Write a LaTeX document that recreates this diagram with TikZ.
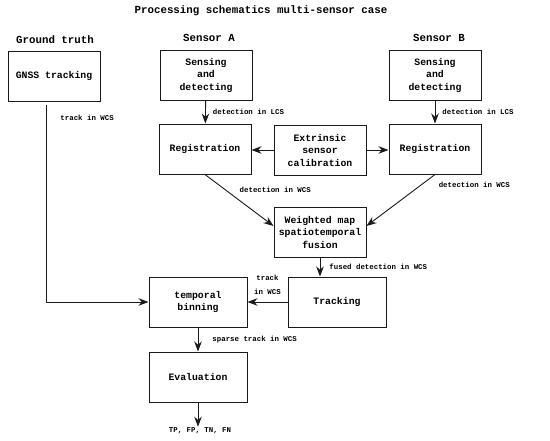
\documentclass[tikz,border=0pt]{standalone}
\usepackage{fontspec}
\setmonofont{Liberation Mono}
\usetikzlibrary{arrows.meta,positioning}
\definecolor{Ink}{HTML}{1A1A1A}

\begin{document}
\begin{tikzpicture}[x=1pt,y=-1pt,font=\ttfamily\bfseries,flowline/.style={draw=Ink,line width=0.9pt,-{Stealth[length=10pt,width=7.5pt]}},block/.style={rectangle,draw=Ink,line width=1pt,minimum width=92pt,minimum height=50pt,align=center,inner sep=2pt,font=\ttfamily\bfseries\fontsize{9.8}{12.5}\selectfont},wideblock/.style={block,minimum width=98pt},heading/.style={font=\ttfamily\bfseries\fontsize{10.8}{12}\selectfont},tag/.style={font=\ttfamily\bfseries\fontsize{7.4}{14}\selectfont,inner sep=1pt}]
\useasboundingbox (0,0) rectangle (550,440);
\node[heading] (title) at (261,11) {Processing schematics multi-sensor case};
\node[heading] (hgt) at (55,40) {Ground truth};
\node[heading] (hsa) at (209,38) {Sensor A};
\node[heading] (hsb) at (439,38) {Sensor B};
\node[block] (gnss) at (54,76) {GNSS tracking};
\node[block] (senseA) at (206,75) {Sensing\\and\\detecting};
\node[block] (senseB) at (435,75) {Sensing\\and\\detecting};
\node[block] (regA) at (205,149) {Registration};
\node[block] (calib) at (320,150) {Extrinsic\\sensor\\calibration};
\node[block] (regB) at (435,149) {Registration};
\node[block] (fusion) at (320,232) {Weighted map\\spatiotemporal\\fusion};
\node[wideblock] (tracking) at (337,302) {Tracking};
\node[wideblock] (binning) at (198,302) {temporal\\binning};
\node[wideblock] (eval) at (198,377) {Evaluation};
\node[tag] (result) at (200,431) {TP, FP, TN, FN};
\draw[flowline] ([xshift=-8pt,yshift=-3pt]gnss.south) |- node[tag,pos=0.035,right=13pt]{track in WCS} (binning.west);
\draw[flowline] (senseA) -- node[tag,right=6pt]{detection in LCS} (regA);
\draw[flowline] (senseB) -- node[tag,right=6pt]{detection in LCS} (regB);
\draw[flowline] (calib.west) -- (calib.west -| regA.east);
\draw[flowline] (calib.east) -- (calib.east -| regB.west);
\draw[flowline] (regA.south) -- node[tag,midway,anchor=south west,xshift=-1pt,yshift=6pt]{detection in WCS} ([yshift=6pt]fusion.west);
\draw[flowline] (regB.south) -- node[tag,pos=0.2,right=16pt]{detection in WCS} ([yshift=6pt]fusion.east);
\draw[flowline] (fusion.south) -- node[tag,right=8pt]{fused detection in WCS} (fusion.south |- tracking.north);
\draw[flowline] (tracking.west) -- node[tag,above=6pt,align=center]{track\\in WCS} (binning.east);
\draw[flowline] (binning) -- node[tag,right=13pt]{sparse track in WCS} (eval);
\draw[flowline] (eval.south) -- (result.north -| eval.south);
\end{tikzpicture}
\end{document}
